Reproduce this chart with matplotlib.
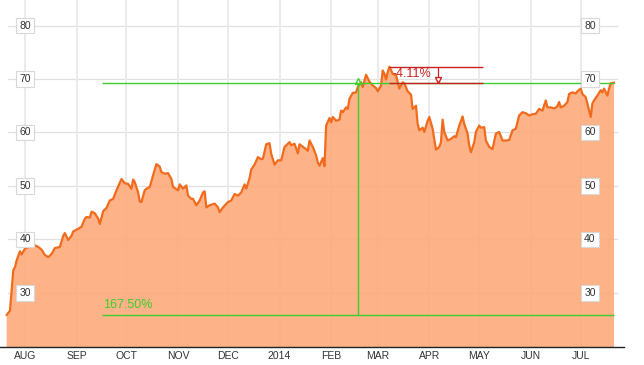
import matplotlib
matplotlib.use("Agg")
import matplotlib.pyplot as plt
import matplotlib.dates as mdates
import numpy as np
from datetime import date, timedelta

# price history (Jul 2013 - Jul 2014)
dates = [
    "2013-07-21", "2013-07-23", "2013-07-25", "2013-07-26", "2013-07-27", "2013-07-29", "2013-07-30",
    "2013-08-01", "2013-08-04", "2013-08-07", "2013-08-09", "2013-08-11", "2013-08-13", "2013-08-15",
    "2013-08-17", "2013-08-19", "2013-08-22", "2013-08-24", "2013-08-25", "2013-08-27", "2013-08-29",
    "2013-08-30", "2013-09-02", "2013-09-04", "2013-09-06", "2013-09-07", "2013-09-09", "2013-09-10",
    "2013-09-12", "2013-09-14", "2013-09-15", "2013-09-17", "2013-09-18", "2013-09-19", "2013-09-21",
    "2013-09-23", "2013-09-25", "2013-09-28", "2013-09-30", "2013-10-02", "2013-10-04", "2013-10-05",
    "2013-10-06", "2013-10-08", "2013-10-09", "2013-10-10", "2013-10-12", "2013-10-13", "2013-10-15",
    "2013-10-17", "2013-10-19", "2013-10-21", "2013-10-22", "2013-10-24", "2013-10-26", "2013-10-28",
    "2013-10-29", "2013-11-01", "2013-11-02", "2013-11-04", "2013-11-06", "2013-11-07", "2013-11-09",
    "2013-11-10", "2013-11-12", "2013-11-14", "2013-11-16", "2013-11-17", "2013-11-18", "2013-11-20",
    "2013-11-23", "2013-11-25", "2013-11-26", "2013-11-28", "2013-12-01", "2013-12-03", "2013-12-05",
    "2013-12-07", "2013-12-09", "2013-12-11", "2013-12-12", "2013-12-14", "2013-12-15", "2013-12-17",
    "2013-12-19", "2013-12-21", "2013-12-22", "2013-12-24", "2013-12-26", "2013-12-27", "2013-12-29",
    "2013-12-31", "2014-01-02", "2014-01-04", "2014-01-07", "2014-01-08", "2014-01-10", "2014-01-12",
    "2014-01-13", "2014-01-16", "2014-01-18", "2014-01-19", "2014-01-21", "2014-01-23", "2014-01-24",
    "2014-01-25", "2014-01-27", "2014-01-28", "2014-01-29", "2014-01-31", "2014-02-01", "2014-02-02",
    "2014-02-04", "2014-02-06", "2014-02-07", "2014-02-08", "2014-02-10", "2014-02-11", "2014-02-12",
    "2014-02-14", "2014-02-16", "2014-02-17", "2014-02-19", "2014-02-20", "2014-02-22", "2014-02-24",
    "2014-02-26", "2014-02-28", "2014-03-01", "2014-03-03", "2014-03-04", "2014-03-05", "2014-03-06",
    "2014-03-07", "2014-03-08", "2014-03-10", "2014-03-12", "2014-03-14", "2014-03-16", "2014-03-17",
    "2014-03-19", "2014-03-21", "2014-03-22", "2014-03-24", "2014-03-25", "2014-03-26", "2014-03-28",
    "2014-03-29", "2014-03-31", "2014-04-01", "2014-04-03", "2014-04-05", "2014-04-07", "2014-04-08",
    "2014-04-09", "2014-04-10", "2014-04-12", "2014-04-14", "2014-04-16", "2014-04-17", "2014-04-19",
    "2014-04-21", "2014-04-22", "2014-04-24", "2014-04-25", "2014-04-26", "2014-04-28", "2014-04-29",
    "2014-05-01", "2014-05-02", "2014-05-04", "2014-05-05", "2014-05-07", "2014-05-09", "2014-05-11",
    "2014-05-13", "2014-05-15", "2014-05-17", "2014-05-19", "2014-05-21", "2014-05-23", "2014-05-25",
    "2014-05-27", "2014-05-29", "2014-05-31", "2014-06-02", "2014-06-04", "2014-06-06", "2014-06-08",
    "2014-06-10", "2014-06-11", "2014-06-13", "2014-06-15", "2014-06-17", "2014-06-18", "2014-06-19",
    "2014-06-21", "2014-06-23", "2014-06-24", "2014-06-26", "2014-06-28", "2014-06-29", "2014-07-01",
    "2014-07-02", "2014-07-04", "2014-07-05", "2014-07-07", "2014-07-08", "2014-07-09", "2014-07-11",
    "2014-07-13", "2014-07-14", "2014-07-15", "2014-07-17", "2014-07-18", "2014-07-19", "2014-07-21",
]
prices = [
    25.9, 26.7, 34.3, 34.8, 36.1, 37.8, 37.2,
    38.3, 38.7, 38.9, 38.6, 38.1, 37.1, 36.7,
    37.3, 38.4, 38.6, 40.7, 41.2, 39.9, 40.7,
    41.5, 42.0, 42.4, 43.9, 44.2, 44.1, 45.2,
    44.9, 43.9, 42.9, 45.3, 45.6, 45.9, 47.3,
    47.6, 49.2, 51.3, 50.5, 50.4, 49.5, 51.2,
    50.7, 48.8, 47.1, 47.0, 49.2, 49.5, 49.8,
    52.0, 54.1, 53.6, 52.6, 52.3, 52.4, 51.3,
    49.8, 49.2, 50.3, 49.5, 50.1, 48.2, 47.6,
    47.6, 46.4, 47.3, 48.8, 49.0, 46.0, 46.4,
    46.7, 46.0, 45.1, 46.0, 47.0, 47.3, 48.5,
    48.2, 48.8, 50.3, 49.5, 51.5, 53.1, 54.0,
    55.4, 55.0, 55.1, 57.8, 58.0, 56.0, 54.0,
    54.8, 54.8, 57.3, 58.2, 57.6, 57.9, 56.1,
    57.8, 57.1, 56.6, 58.5, 57.3, 55.7, 54.4,
    53.8, 55.2, 53.7, 61.3, 62.7, 61.9, 62.9,
    62.2, 62.4, 64.1, 63.8, 64.7, 64.4, 66.3,
    67.4, 67.5, 68.5, 69.4, 68.5, 70.8, 69.5,
    68.8, 68.3, 67.7, 68.8, 71.6, 71.0, 69.9,
    71.3, 72.3, 71.0, 70.7, 68.2, 69.4, 69.2,
    67.7, 67.1, 64.4, 65.0, 61.6, 60.4, 60.9,
    60.1, 62.2, 62.9, 60.7, 56.8, 57.3, 58.2,
    62.4, 60.1, 58.5, 58.8, 59.3, 59.1, 61.3,
    63.0, 61.6, 59.8, 57.6, 56.3, 58.2, 60.1,
    61.3, 60.9, 61.0, 58.5, 57.3, 56.9, 59.8,
    60.1, 58.5, 58.5, 58.6, 60.4, 60.7, 63.2,
    63.8, 63.6, 63.2, 63.4, 63.5, 64.4, 64.1,
    66.0, 64.7, 64.7, 64.5, 64.9, 65.7, 64.7,
    65.0, 65.7, 67.2, 67.5, 67.3, 67.7, 68.2,
    67.2, 66.6, 65.4, 62.9, 65.4, 66.0, 66.9,
    67.9, 67.5, 68.2, 66.9, 68.2, 69.2, 69.3,
]
y_ticks = [30, 40, 50, 60, 70, 80]
gain_label = "167.50%"
drawdown_label = "-4.11%"

x = np.array(dates, dtype="datetime64[D]")
y = np.array(prices)

fill_col = "#fdac7d"
line_col = "#f26b1d"
green = "#3ccf2e"
red = "#cc1f1f"

fig = plt.figure(figsize=(6.44, 3.65), dpi=100)
ax = fig.add_axes([0, 18 / 365, 624 / 644, 347 / 365])

aug1 = date(2013, 8, 1)
ax.set_xlim(aug1 - timedelta(days=15.05), aug1 + timedelta(days=360.5))
ax.set_ylim(19.9, 84.77)

# grid
for t in y_ticks:
    ax.axhline(t, xmin=8 / 624, xmax=617 / 624, color="#e0e0e0", lw=0.9, zorder=0)
months = np.arange(np.datetime64("2013-08"), np.datetime64("2014-08"), dtype="datetime64[M]")
for m in months.astype("datetime64[D]"):
    ax.axvline(m, color="#ebebeb", lw=1.4, zorder=0)

ax.fill_between(x, y, 0, color=fill_col, alpha=0.92, lw=0, zorder=1)
ax.plot(x, y, color=line_col, lw=1.6, zorder=3, solid_joinstyle="round")

# gain annotation (green)
g_start = np.datetime64("2013-09-16")
g_cross = np.datetime64("2014-02-17")
ax.hlines([y[-1], y[0]], g_start, x[-1], color=green, lw=1.0, zorder=4)
ax.vlines(g_cross, y[0], y[-1], color=green, lw=1.0, zorder=4)
ax.plot([g_cross], [y[-1] + 0.3], marker="^", ms=5, mfc="none", mec=green, mew=1.0, zorder=5)
ax.text(g_start + np.timedelta64(1, "D"), y[0] + 0.8, gain_label, color=green,
        fontsize=9, family="Liberation Sans", va="bottom", ha="left", zorder=5)

# drawdown annotation (red)
i_max = int(np.argmax(y))
r_end = np.datetime64("2014-05-03")
ax.hlines([y[i_max], y[-1]], x[i_max], r_end, color=red, lw=1.0, zorder=5)
r_arrow = np.datetime64("2014-04-06")
ax.vlines(r_arrow, y[-1] + 0.7, y[i_max], color=red, lw=0.9, zorder=5)
ax.plot([r_arrow], [y[-1] + 0.45], marker="v", ms=5, mfc="white", mec=red, mew=1.0, zorder=6)
ax.text(x[i_max] + np.timedelta64(2, "D"), (y[i_max] + y[-1]) / 2 + 0.1, drawdown_label,
        color=red, fontsize=9, family="Liberation Sans", va="center", ha="left", zorder=6)

# y labels on both sides
box = dict(boxstyle="square,pad=0.28", fc="white", ec="#d8d8d8", lw=0.8)
for t in y_ticks:
    for xf in (25 / 624, 590 / 624):
        ax.text(xf, t, str(t), transform=ax.get_yaxis_transform(), ha="center", va="center",
                fontsize=7.5, color="#333333", family="Liberation Sans", bbox=box, zorder=7)

# month axis
ax.xaxis.set_major_locator(mdates.MonthLocator())
ax.xaxis.set_major_formatter(plt.FuncFormatter(
    lambda v, p: mdates.num2date(v).strftime("%Y") if mdates.num2date(v).month == 1
    else mdates.num2date(v).strftime("%b").upper()))
ax.tick_params(axis="x", length=0, pad=3, labelsize=7.5, labelcolor="#333333")
for lab in ax.get_xticklabels():
    lab.set_family("Liberation Sans")
ax.set_yticks([])
for s in ("top", "left", "right"):
    ax.spines[s].set_visible(False)
ax.spines["bottom"].set_color("#222222")
ax.spines["bottom"].set_linewidth(1.0)

fig.savefig("out.png", dpi=100)
